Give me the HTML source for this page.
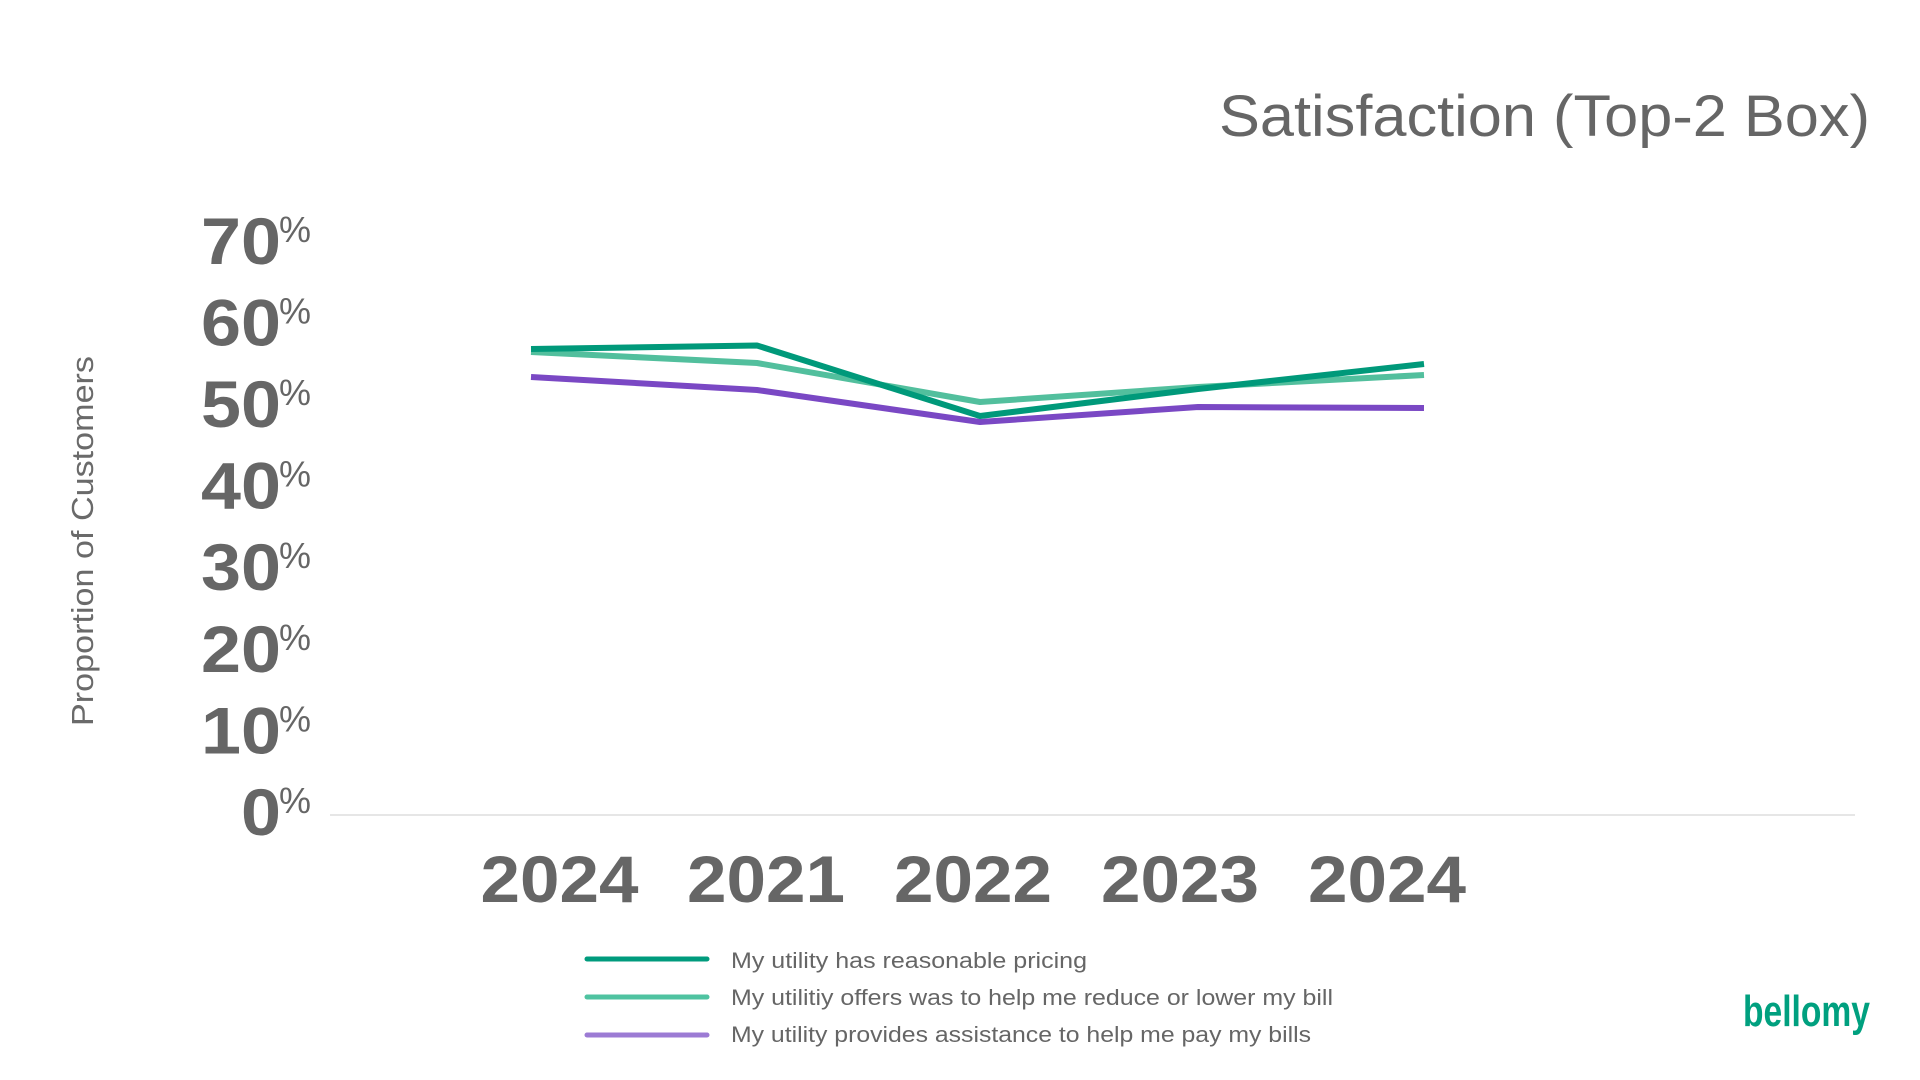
<!DOCTYPE html>
<html>
<head>
<meta charset="utf-8">
<style>
  html, body { margin: 0; padding: 0; background: #ffffff; }
  body { width: 1920px; height: 1080px; overflow: hidden; }
  svg { display: block; }
  text { font-family: "Liberation Sans", sans-serif; }
</style>
</head>
<body>
<svg width="1920" height="1080" viewBox="0 0 1920 1080" xmlns="http://www.w3.org/2000/svg">
  <rect x="0" y="0" width="1920" height="1080" fill="#ffffff"/>

  <!-- Title -->
  <text x="1219" y="136" font-size="58" fill="#666666" textLength="651" lengthAdjust="spacingAndGlyphs">Satisfaction (Top-2 Box)</text>

  <!-- Y axis title -->
  <text transform="translate(93,726) rotate(-90)" font-size="31" fill="#6a6a6a" textLength="370" lengthAdjust="spacingAndGlyphs">Proportion of Customers</text>

  <!-- Y tick labels -->
  <g fill="#666666" font-weight="bold" font-size="66" text-anchor="end">
    <text x="281" y="263.8" textLength="80" lengthAdjust="spacingAndGlyphs">70</text>
    <text x="281" y="345.4" textLength="80" lengthAdjust="spacingAndGlyphs">60</text>
    <text x="281" y="427" textLength="80" lengthAdjust="spacingAndGlyphs">50</text>
    <text x="281" y="508.6" textLength="80" lengthAdjust="spacingAndGlyphs">40</text>
    <text x="281" y="590.2" textLength="80" lengthAdjust="spacingAndGlyphs">30</text>
    <text x="281" y="671.8" textLength="80" lengthAdjust="spacingAndGlyphs">20</text>
    <text x="281" y="753.4" textLength="80" lengthAdjust="spacingAndGlyphs">10</text>
    <text x="281" y="835" textLength="40" lengthAdjust="spacingAndGlyphs">0</text>
  </g>
  <g fill="#666666" font-size="36">
    <text x="279" y="241.8">%</text>
    <text x="279" y="323.4">%</text>
    <text x="279" y="405">%</text>
    <text x="279" y="486.6">%</text>
    <text x="279" y="568.2">%</text>
    <text x="279" y="649.8">%</text>
    <text x="279" y="731.4">%</text>
    <text x="279" y="813">%</text>
  </g>

  <!-- Axis line -->
  <line x1="330" y1="815" x2="1855" y2="815" stroke="#dedede" stroke-width="1.5"/>

  <!-- X labels -->
  <g fill="#666666" font-weight="bold" font-size="66" text-anchor="middle">
    <text x="559.5" y="902" textLength="158" lengthAdjust="spacingAndGlyphs">2024</text>
    <text x="766" y="902" textLength="158" lengthAdjust="spacingAndGlyphs">2021</text>
    <text x="973" y="902" textLength="158" lengthAdjust="spacingAndGlyphs">2022</text>
    <text x="1180" y="902" textLength="158" lengthAdjust="spacingAndGlyphs">2023</text>
    <text x="1387" y="902" textLength="158" lengthAdjust="spacingAndGlyphs">2024</text>
  </g>

  <!-- Series -->
  <g fill="none" stroke-width="6" stroke-linejoin="round" stroke-linecap="butt">
    <polyline points="531,377 757,390 980,422 1198,407 1424,408" stroke="#7a48c4"/>
    <polyline points="531,352 757,363 980,402 1198,387 1424,375" stroke="#52bf9d"/>
    <polyline points="531,349 757,345.5 980,416 1198,389 1424,364" stroke="#00997a"/>
  </g>

  <!-- Legend -->
  <g stroke-width="5" stroke-linecap="round">
    <line x1="587" y1="959" x2="707" y2="959" stroke="#009b7d"/>
    <line x1="587" y1="997" x2="707" y2="997" stroke="#4fc3a1"/>
    <line x1="587" y1="1035" x2="707" y2="1035" stroke="#9c7bd4"/>
  </g>
  <g fill="#666666" font-size="22">
    <text x="731" y="968" textLength="356" lengthAdjust="spacingAndGlyphs">My utility has reasonable pricing</text>
    <text x="731" y="1005" textLength="602" lengthAdjust="spacingAndGlyphs">My utilitiy offers was to help me reduce or lower my bill</text>
    <text x="731" y="1042" textLength="580" lengthAdjust="spacingAndGlyphs">My utility provides assistance to help me pay my bills</text>
  </g>

  <!-- Logo -->
  <text x="1743" y="1026" font-size="44" font-weight="bold" fill="#00a07f" textLength="127" lengthAdjust="spacingAndGlyphs">bellomy</text>
</svg>
</body>
</html>
